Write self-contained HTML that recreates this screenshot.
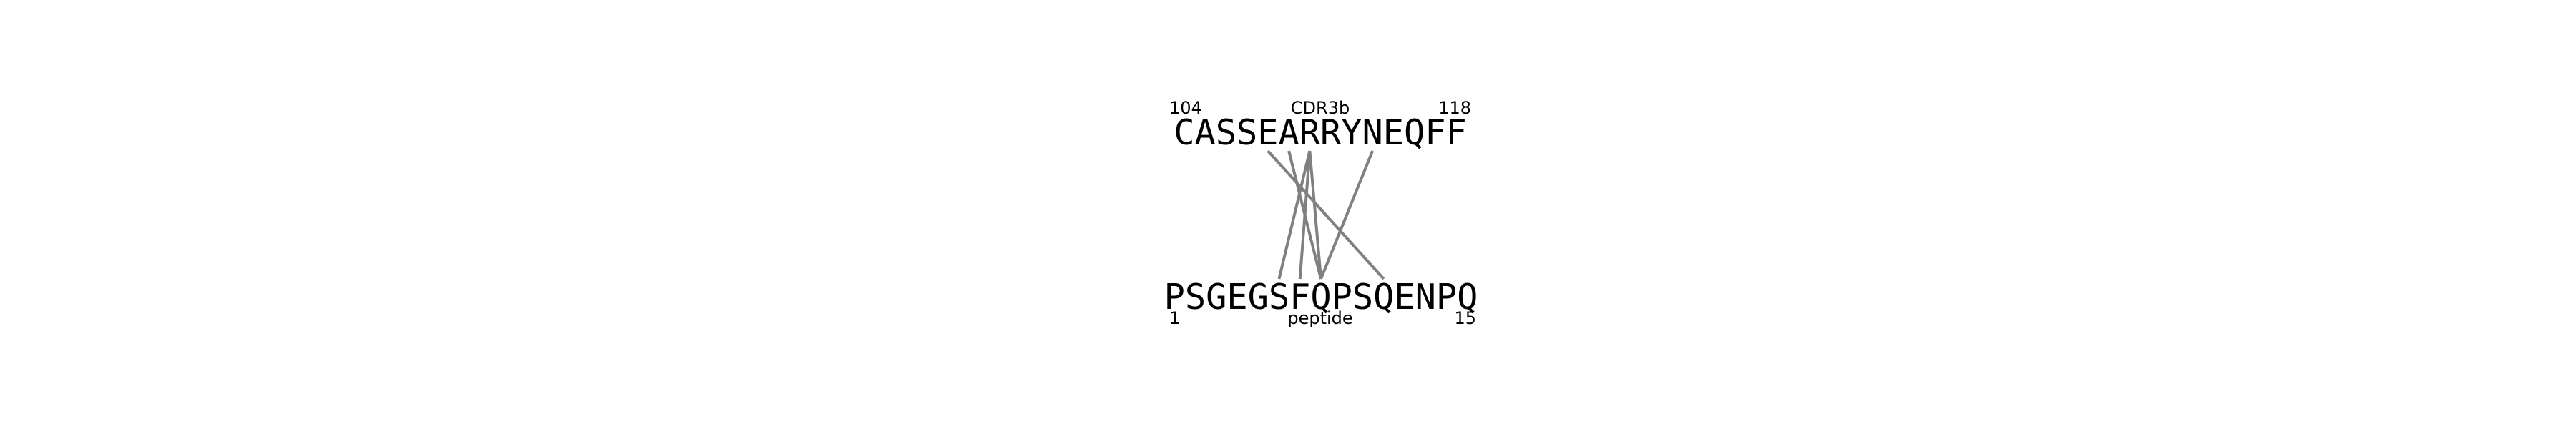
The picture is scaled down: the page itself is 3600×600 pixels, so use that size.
<!DOCTYPE html>
<html><head><meta charset="utf-8"><style>
html,body{margin:0;padding:0;background:#fff;width:3600px;height:600px;overflow:hidden}
svg{display:block}
</style></head><body>
<svg id="chart" width="3600" height="600" viewBox="0 0 3600 600" xmlns="http://www.w3.org/2000/svg">
<g id="lines"></g>
<text x="1845" y="202" text-anchor="middle" font-family="DejaVu Sans Mono, Liberation Mono, monospace" font-size="48.6" fill="#000">CASSEARRYNEQFF</text>
<text x="1846" y="432" text-anchor="middle" font-family="DejaVu Sans Mono, Liberation Mono, monospace" font-size="48.6" fill="#000">PSGEGSFQPSQENPQ</text>
<g font-family="DejaVu Sans, Liberation Sans, sans-serif" font-size="24" fill="#000">
<text x="1634" y="159">104</text>
<text x="1845" y="159" text-anchor="middle">CDR3b</text>
<text x="2056" y="159" text-anchor="end">118</text>
<text x="1634" y="453">1</text>
<text x="1845" y="453" text-anchor="middle">peptide</text>
<text x="2063" y="453" text-anchor="end">15</text>
</g>
</svg>
<script>
const topSeq = "CASSEARRYNEQFF";
const botSeq = "PSGEGSFQPSQENPQ";
const contactTop = [4, 5, 6, 6, 6, 9];
const contactBottom = [10, 7, 5, 6, 7, 7];
const charW = 29.26;
const topX = i => 1845 - topSeq.length * charW / 2 + charW * (i + 0.5);
const botX = j => 1846 - botSeq.length * charW / 2 + charW * (j + 0.5);
const g = document.getElementById('lines');
for (let k = 0; k < contactTop.length; k++) {
  const l = document.createElementNS('http://www.w3.org/2000/svg', 'line');
  
  
  l.setAttribute('x1', topX(contactTop[k]));
  l.setAttribute('y1', 211);
  l.setAttribute('x2', botX(contactBottom[k]));
  l.setAttribute('y2', 390);
  l.setAttribute('stroke', '#808080');
  l.setAttribute('stroke-width', 4);
  g.appendChild(l);
}
</script>
</body></html>
